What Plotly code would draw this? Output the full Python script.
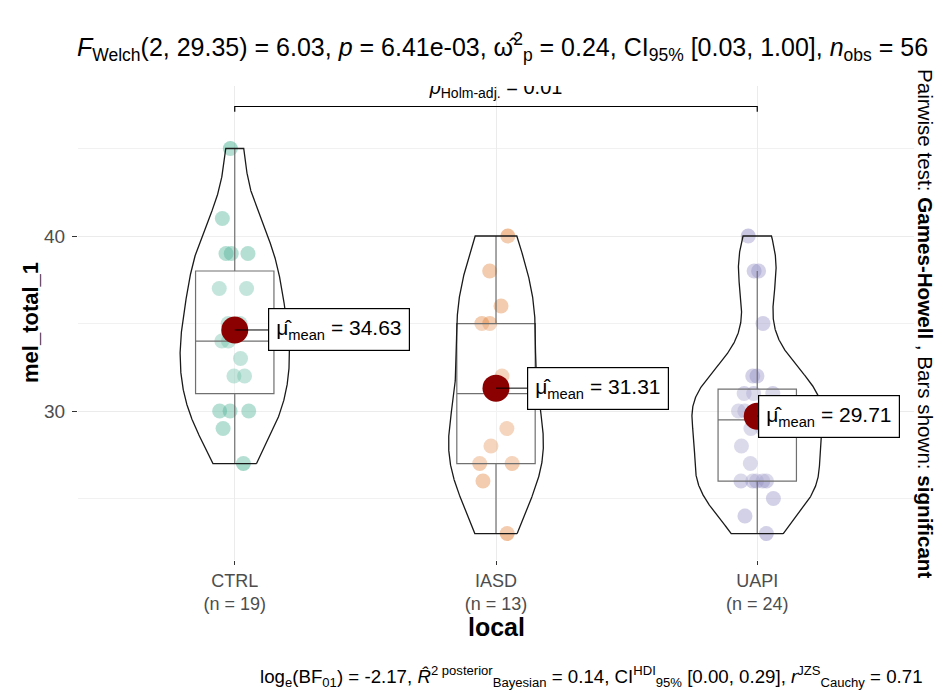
import numpy as np
import plotly.graph_objects as go

# ---------------- data ----------------
groups = ["CTRL", "IASD", "UAPI"]
ctrl_vals = [27, 29, 30, 30, 30, 32, 32, 33, 34, 34, 35, 35, 37, 37, 39, 39, 39, 41, 45]
iasd_vals = [23, 26, 27, 27, 28, 29, 31, 32, 35, 35, 36, 38, 40]
uapi_vals = [23, 24, 25, 26, 26, 26, 26, 26, 27, 28, 29, 29, 30, 30, 30,
             31, 31, 31, 32, 32, 35, 38, 38, 40]
group_values = [ctrl_vals, iasd_vals, uapi_vals]
y_tick_values = [30, 40]
pair_from = "CTRL"
pair_to = "UAPI"
pair_p_label = "0.01"
pairwise_test = "Games-Howell"
bars_shown = "significant"

# ---------------- styles ----------------
point_colors = ["#1B9E77", "#D95F02", "#7570B3"]
FONT = "Liberation Sans, Arial, sans-serif"
label_offsets_px = [104, 102, 72]   # ggrepel placement of mean labels

W, H = 943, 693
L, R, T, B = 78, 29, 86, 133
y_range = [21.49, 48.57]
x_range = [-0.6, 2.6]


def nrd0(x):
    x = np.asarray(x, float)
    sd = x.std(ddof=1)
    q75, q25 = np.percentile(x, [75, 25])
    lo = min(sd, (q75 - q25) / 1.34)
    return 0.9 * lo * len(x) ** -0.2


def kde(x, grid, bw):
    x = np.asarray(x, float)
    z = (grid[:, None] - x[None, :]) / bw
    return np.exp(-0.5 * z ** 2).sum(axis=1) / (len(x) * bw * np.sqrt(2 * np.pi))


fig = go.Figure()

# jittered points (library jitter)
for i, (g, vals) in enumerate(zip(groups, group_values)):
    fig.add_trace(go.Box(
        x=[i] * len(vals), y=vals, width=0.3,
        boxpoints="all", jitter=0.55, pointpos=0,
        marker=dict(color=point_colors[i], opacity=0.4, size=15, line=dict(width=0)),
        line=dict(width=0, color="rgba(0,0,0,0)"), fillcolor="rgba(0,0,0,0)",
        whiskerwidth=0, hoverinfo="skip", showlegend=False,
    ))

# boxplots (R type-7 quantiles, whiskers to most extreme points within 1.5 IQR)
for i, vals in enumerate(group_values):
    v = np.asarray(vals, float)
    q1, med, q3 = np.percentile(v, [25, 50, 75])
    iqr = q3 - q1
    lo = v[v >= q1 - 1.5 * iqr].min()
    hi = v[v <= q3 + 1.5 * iqr].max()
    fig.add_trace(go.Box(
        x=[i], q1=[q1], median=[med], q3=[q3], lowerfence=[lo], upperfence=[hi],
        width=0.3, boxpoints=False, whiskerwidth=0,
        line=dict(color="#4D4D4D", width=1.2), fillcolor="rgba(255,255,255,0.2)",
        hoverinfo="skip", showlegend=False,
    ))

# violins (gaussian KDE, nrd0 bandwidth, trimmed, scaled by area)
dens = []
for vals in group_values:
    v = np.asarray(vals, float)
    grid = np.linspace(v.min(), v.max(), 512)
    dens.append((grid, kde(v, grid, nrd0(v))))
dmax = max(d.max() for _, d in dens)
for i, (grid, d) in enumerate(dens):
    half = d / dmax * 0.25
    xs = np.concatenate([i + half, (i - half)[::-1], [i + half[0]]])
    ys = np.concatenate([grid, grid[::-1], [grid[0]]])
    fig.add_trace(go.Scatter(
        x=xs, y=ys, mode="lines", fill="toself",
        fillcolor="rgba(255,255,255,0.2)", line=dict(color="#1a1a1a", width=1.3),
        hoverinfo="skip", showlegend=False,
    ))

# means
means = [float(np.mean(v)) for v in group_values]
fig.add_trace(go.Scatter(
    x=list(range(len(groups))), y=means, mode="markers",
    marker=dict(color="#8B0000", size=27, line=dict(width=0)),
    hoverinfo="skip", showlegend=False,
))

# significance bracket
all_vals = np.concatenate([np.asarray(v, float) for v in group_values])
bracket_y = all_vals.max() + 2.4
tip = 0.3
xa, xb = groups.index(pair_from), groups.index(pair_to)
fig.add_trace(go.Scatter(
    x=[xa, xa, xb, xb], y=[bracket_y - tip, bracket_y, bracket_y, bracket_y - tip],
    mode="lines", line=dict(color="black", width=1.2),
    hoverinfo="skip", showlegend=False,
))
fig.add_trace(go.Scatter(
    x=[(xa + xb) / 2], y=[bracket_y + 0.45], mode="text",
    text=[f"<i>p</i><sub>Holm-adj.</sub> = {pair_p_label}"],
    textposition="top center", cliponaxis=True,
    textfont=dict(family=FONT, size=20, color="black"),
    hoverinfo="skip", showlegend=False,
))

annotations = []
for i, m in enumerate(means):
    annotations.append(dict(
        x=i, y=m, xref="x", yref="y", ax=label_offsets_px[i], ay=0,
        text=f"μ̂<sub>mean</sub> = {m:.2f}", showarrow=True, arrowhead=0,
        arrowwidth=1, arrowcolor="black", bordercolor="black", borderwidth=1.2,
        borderpad=7, bgcolor="white", font=dict(family=FONT, size=21, color="black"),
    ))

pw, ph = W - L - R, H - T - B
n_obs = len(all_vals)
subtitle = ("<i>F</i><sub>Welch</sub>(2, 29.35) = 6.03, <i>p</i> = 6.41e-03, "
            "ω̂<sup>2</sup><sub>p</sub> = 0.24, CI<sub>95%</sub> [0.03, 1.00], "
            f"<i>n</i><sub>obs</sub> = {n_obs}")
caption = ("log<sub>e</sub>(BF<sub>01</sub>) = -2.17, "
           "<i>R̂</i><sup>2 posterior</sup><sub>Bayesian</sub> = 0.14, "
           "CI<sup>HDI</sup><sub>95%</sub> [0.00, 0.29], "
           "<i>r</i><sup>JZS</sup><sub>Cauchy</sub> = 0.71")
annotations += [
    dict(xref="paper", yref="paper", x=-(L - 75) / pw, y=1 + (T - 47) / ph, xanchor="left",
         yanchor="middle", showarrow=False, text=subtitle,
         font=dict(family=FONT, size=25, color="black")),
    dict(xref="paper", yref="paper", x=1 + (925 - (W - R)) / pw, y=-(676 - (H - B)) / ph,
         xanchor="right", yanchor="middle", showarrow=False, text=caption,
         font=dict(family=FONT, size=18.7, color="black")),
    dict(xref="paper", yref="paper", x=0.5, y=-(627 - (H - B)) / ph,
         xanchor="center", yanchor="middle", showarrow=False, text="<b>local</b>",
         font=dict(family=FONT, size=25, color="black")),
    dict(xref="paper", yref="paper", x=-(L - 30) / pw, y=0.5,
         xanchor="center", yanchor="middle", showarrow=False, textangle=-90,
         text="<b>mel_total_1</b>", font=dict(family=FONT, size=22, color="black")),
    dict(xref="paper", yref="paper", x=1 + (926 - (W - R)) / pw, y=0.5,
         xanchor="center", yanchor="middle", showarrow=False, textangle=90,
         text=f"Pairwise test: <b>{pairwise_test}</b> , Bars shown: <b>{bars_shown}</b>",
         font=dict(family=FONT, size=20.6, color="black")),
]

tick_text = [f"{g}<br>(n = {len(v)})" for g, v in zip(groups, group_values)]

fig.update_layout(
    width=W, height=H, margin=dict(l=L, r=R, t=T, b=B),
    paper_bgcolor="white", plot_bgcolor="white",
    font=dict(family=FONT, color="black"),
    showlegend=False, annotations=annotations,
    xaxis=dict(range=x_range, tickmode="array", tickvals=list(range(len(groups))),
               ticktext=tick_text, ticks="outside", ticklen=4, tickcolor="#333333",
               tickfont=dict(family=FONT, size=18, color="#4D4D4D"),
               showgrid=True, gridcolor="#EBEBEB", gridwidth=1,
               zeroline=False, showline=False, fixedrange=True),
    yaxis=dict(range=y_range, tickmode="array", tickvals=y_tick_values,
               ticks="outside", ticklen=5, tickcolor="#333333", ticklabelstandoff=3,
               tickfont=dict(family=FONT, size=19, color="#4D4D4D"),
               showgrid=True, gridcolor="#EBEBEB", gridwidth=1,
               minor=dict(dtick=5, tick0=0, showgrid=True, gridcolor="#F1F1F1", ticks=""),
               zeroline=False, showline=False, fixedrange=True),
)

fig.write_html("out.html", config={"displayModeBar": False},
               post_script="document.body.style.margin='0px';document.body.style.padding='0px';")
